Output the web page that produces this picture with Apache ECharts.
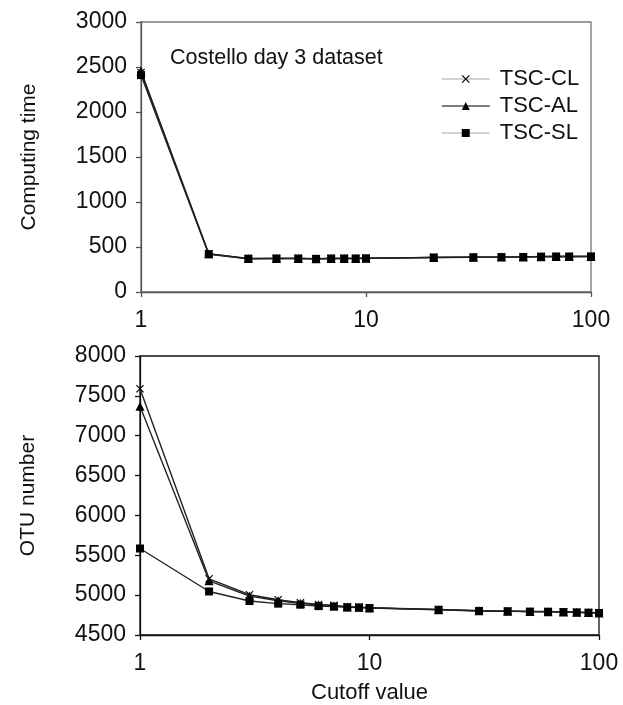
<!DOCTYPE html>
<html>
<head>
<meta charset="utf-8">
<script src="https://cdn.jsdelivr.net/npm/echarts@6/dist/echarts.min.js"></script>
<style>
  html, body { margin: 0; padding: 0; background: #fff; }
  #chart { width: 623px; height: 705px; }
</style>
</head>
<body>
<div id="chart"></div>
<script>
// Cutoff values for each panel
const timeCutoffs = [1, 2, 3, 4, 5, 6, 7, 8, 9, 10, 20, 30, 40, 50, 60, 70, 80, 100];
const otuCutoffs = [1, 2, 3, 4, 5, 6, 7, 8, 9, 10, 20, 30, 40, 50, 60, 70, 80, 90, 100];

// Computing time per method
const timeCL = [2440, 425, 372, 374, 374, 370, 374, 374, 374, 376, 385, 388, 389, 390, 394, 395, 395, 396];
const timeAL = [2455, 424, 371, 373, 373, 369, 373, 373, 373, 375, 384, 387, 388, 390, 393, 394, 395, 395];
const timeSL = [2410, 420, 370, 372, 372, 368, 372, 372, 372, 374, 383, 386, 388, 389, 393, 394, 394, 395];

// OTU number per method
const otuCL = [7590, 5205, 5005, 4943, 4905, 4882, 4872, 4855, 4850, 4842, 4820, 4805, 4800, 4795, 4794, 4790, 4786, 4782, 4778];
const otuAL = [7370, 5180, 4988, 4930, 4898, 4878, 4868, 4852, 4848, 4840, 4818, 4804, 4799, 4794, 4793, 4789, 4785, 4781, 4777];
const otuSL = [5585, 5046, 4926, 4893, 4880, 4862, 4856, 4848, 4845, 4838, 4816, 4802, 4798, 4793, 4792, 4788, 4784, 4780, 4776];

const seriesNames = ['TSC-CL', 'TSC-AL', 'TSC-SL'];
const timeTicks = { min: 0, max: 3000, step: 500 };
const otuTicks = { min: 4500, max: 8000, step: 500 };

const FONT = 'Liberation Sans, Arial, sans-serif';
const crossPath = 'path://M0,1 L1,0 L5,4 L9,0 L10,1 L6,5 L10,9 L9,10 L5,6 L1,10 L0,9 L4,5 Z';
const symbols = [crossPath, 'triangle', 'rect'];
const symbolSizes = [8, 9, 8];
const legendLine = ['#c4c4c4', '#555555', '#c4c4c4'];

function pairs(xs, ys) { return xs.map((x, i) => [x, ys[i]]); }

function makeSeries(name, idx, xs, ys, axisIndex) {
  return {
    name: name,
    type: 'line',
    xAxisIndex: axisIndex,
    yAxisIndex: axisIndex,
    data: pairs(xs, ys),
    symbol: symbols[idx],
    symbolSize: symbolSizes[idx],
    showAllSymbol: true,
    lineStyle: { color: '#222', width: 1.4 },
    itemStyle: { color: '#000' },
    emphasis: { disabled: true },
    animation: false,
    z: 2 + idx
  };
}

function xAxisFor(gridIndex, withName, color) {
  return {
    type: 'log',
    logBase: 10,
    gridIndex: gridIndex,
    min: 1,
    max: 100,
    name: withName ? 'Cutoff value' : '',
    nameLocation: 'middle',
    nameGap: 47,
    nameTextStyle: { color: '#111', fontSize: 22, fontFamily: FONT },
    axisLine: { show: true, lineStyle: { color: color, width: 1.3 } },
    axisTick: { show: true, inside: false, length: 5, lineStyle: { color: color, width: 1.3 } },
    minorTick: { show: false },
    splitLine: { show: false },
    axisLabel: { color: '#111', fontSize: 23, fontFamily: FONT, margin: 17, formatter: v => String(v) }
  };
}

function yAxisFor(gridIndex, name, t, color) {
  return {
    type: 'value',
    gridIndex: gridIndex,
    min: t.min,
    max: t.max,
    interval: t.step,
    name: name,
    nameLocation: 'middle',
    nameGap: 101,
    nameTextStyle: { color: '#111', fontSize: 21, fontFamily: FONT },
    axisLine: { show: true, lineStyle: { color: color, width: 1.3 } },
    axisTick: { show: true, inside: false, length: 5, lineStyle: { color: color, width: 1.3 } },
    splitLine: { show: false },
    axisLabel: { color: '#111', fontSize: 23, fontFamily: FONT, margin: 14, formatter: v => String(v) }
  };
}

const chart = echarts.init(document.getElementById('chart'), null, { renderer: 'canvas' });

chart.setOption({
  backgroundColor: '#fff',
  animation: false,
  title: {
    text: 'Costello day 3 dataset',
    left: 165,
    top: 42,
    textStyle: { color: '#111', fontSize: 21.5, fontWeight: 'normal', fontFamily: FONT }
  },
  legend: {
    orient: 'vertical',
    left: 436,
    top: 63,
    itemWidth: 48,
    itemHeight: 10,
    itemGap: 5,
    textStyle: { color: '#111', fontSize: 22, fontFamily: FONT, padding: [0, 0, 0, 5] },
    data: seriesNames.map((n, i) => ({
      name: n,
      lineStyle: { color: legendLine[i], width: 1.5 },
      itemStyle: { color: '#000' }
    }))
  },
  grid: [
    { left: 141, top: 22, width: 450, height: 270, show: true, borderColor: '#777', borderWidth: 1.3, backgroundColor: 'transparent' },
    { left: 140, top: 356, width: 459, height: 281, show: true, borderColor: '#111', borderWidth: 1.3, backgroundColor: 'transparent' }
  ],
  xAxis: [xAxisFor(0, false, '#555'), xAxisFor(1, true, '#111')],
  yAxis: [yAxisFor(0, 'Computing time', timeTicks, '#555'), yAxisFor(1, 'OTU number', otuTicks, '#111')],
  series: [
    makeSeries(seriesNames[0], 0, timeCutoffs, timeCL, 0),
    makeSeries(seriesNames[1], 1, timeCutoffs, timeAL, 0),
    makeSeries(seriesNames[2], 2, timeCutoffs, timeSL, 0),
    makeSeries(seriesNames[0], 0, otuCutoffs, otuCL, 1),
    makeSeries(seriesNames[1], 1, otuCutoffs, otuAL, 1),
    makeSeries(seriesNames[2], 2, otuCutoffs, otuSL, 1)
  ]
});
</script>
</body>
</html>
